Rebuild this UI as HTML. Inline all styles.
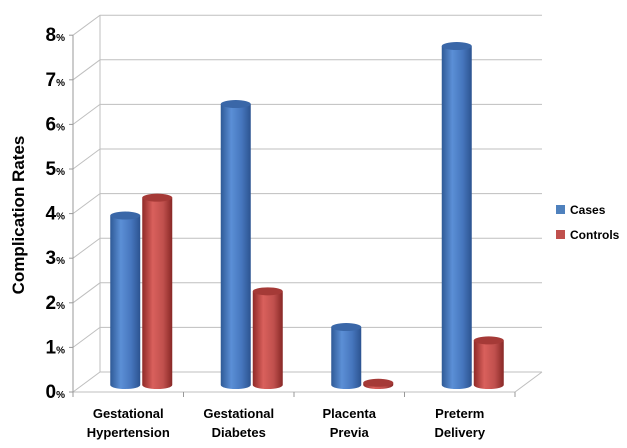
<!DOCTYPE html>
<html><head><meta charset="utf-8"><style>
body{margin:0;background:#fff;}
svg{display:block;font-family:"Liberation Sans",Arial,sans-serif;}
</style></head><body>
<svg id="chart" width="627" height="448" viewBox="0 0 627 448">
<defs>
<linearGradient id="gBlue" x1="0" x2="1" y1="0" y2="0">
<stop offset="0" stop-color="#2f5a96"/><stop offset="0.35" stop-color="#5b8fd6"/><stop offset="0.7" stop-color="#4676bd"/><stop offset="1" stop-color="#2c5390"/></linearGradient>
<linearGradient id="gRed" x1="0" x2="1" y1="0" y2="0">
<stop offset="0" stop-color="#8f2a28"/><stop offset="0.35" stop-color="#d9605c"/><stop offset="0.7" stop-color="#c0504d"/><stop offset="1" stop-color="#882826"/></linearGradient>
</defs>
<g id="grid"></g>
<g id="bars"></g>
<g id="labels"></g>
<text transform="translate(24,215) rotate(-90)" text-anchor="middle" font-size="17" font-weight="bold" fill="#000">Complication Rates</text>
<g>
<rect x="556" y="205" width="9" height="9" fill="#4f81bd"/>
<text x="570" y="214" font-size="12" font-weight="bold" fill="#000">Cases</text>
<rect x="556" y="230" width="9" height="9" fill="#c0504d"/>
<text x="570" y="239" font-size="12" font-weight="bold" fill="#000">Controls</text>
</g>
</svg>
<script>
const categories = [["Gestational","Hypertension"],["Gestational","Diabetes"],["Placenta","Previa"],["Preterm","Delivery"]];
const cases = [3.8, 6.3, 1.3, 7.6];
const controls = [4.2, 2.1, 0.05, 1.0];
const yTicks = [0,1,2,3,4,5,6,7,8];

const NS="http://www.w3.org/2000/svg";
const X0=73,X1=515,Y0=392,PER=44.6,DX=27,DY=-20;
const y=v=>Y0-v*PER;
const catW=(X1-X0)/categories.length;
function mk(tag,attrs,parent){const e=document.createElementNS(NS,tag);for(const k in attrs)e.setAttribute(k,attrs[k]);parent.appendChild(e);return e;}
const grid=document.getElementById('grid'),bars=document.getElementById('bars'),labels=document.getElementById('labels');
// walls
let w=mk('line',{x1:X0+DX,y1:y(8)+DY,x2:X0+DX,y2:Y0+DY,stroke:'#bfbfbf'},grid);


yTicks.forEach(t=>{
  const l=mk('polyline',{points:`${X0},${y(t)} ${X0+DX},${y(t)+DY} ${X1+DX},${y(t)+DY}`,fill:'none',stroke:'#bfbfbf'},grid);
  
  
  const tk=mk('line',{x1:X0-4,y1:y(t),x2:X0,y2:y(t),stroke:'#999'},grid);
  
  
  const tx=mk('text',{x:X0-8,y:y(t)+6,'text-anchor':'end','font-weight':'bold',fill:'#000'},labels);
  
  
  const a=mk('tspan',{'font-size':'19'},tx);a.textContent=t;
  const b=mk('tspan',{'font-size':'10'},tx);b.textContent='%';
});
let fl=mk('polyline',{points:`${X0},${Y0} ${X1},${Y0} ${X1+DX},${Y0+DY}`,fill:'none',stroke:'#bfbfbf'},grid);


let ax=mk('line',{x1:X0,y1:y(8),x2:X0,y2:Y0,stroke:'#999'},grid);


for(let i=0;i<=categories.length;i++){
  const tk=mk('line',{x1:X0+i*catW,y1:Y0,x2:X0+i*catW,y2:Y0+5,stroke:'#999'},grid);
  
  
}
const BW=30,base=Y0-7,RY=4;
function cyl(cx,v,fill,top,name){
  const g=mk('g',{},bars);
  
  
  const yt=base-v*PER, l=cx-BW/2, r=cx+BW/2;
  mk('path',{d:`M${l},${yt} L${l},${base} A${BW/2},${RY} 0 0 0 ${r},${base} L${r},${yt} Z`,fill:fill},g);
  mk('ellipse',{cx:cx,cy:yt,rx:BW/2,ry:RY,fill:top},g);
}
categories.forEach((c,i)=>{
  const cx=X0+catW*(i+0.5)+13;
  cyl(cx-16,cases[i],'url(#gBlue)','#3a67a8','bar-cases-'+i);
  cyl(cx+16,controls[i],'url(#gRed)','#a53a37','bar-controls-'+i);
  const lx=X0+catW*(i+0.5);
  c.forEach((ln,j)=>{
    const t=mk('text',{x:lx,y:418+j*19,'text-anchor':'middle','font-size':'13','font-weight':'bold',fill:'#000'},labels);
    
    
    t.textContent=ln;
  });
});
</script>
</body></html>
